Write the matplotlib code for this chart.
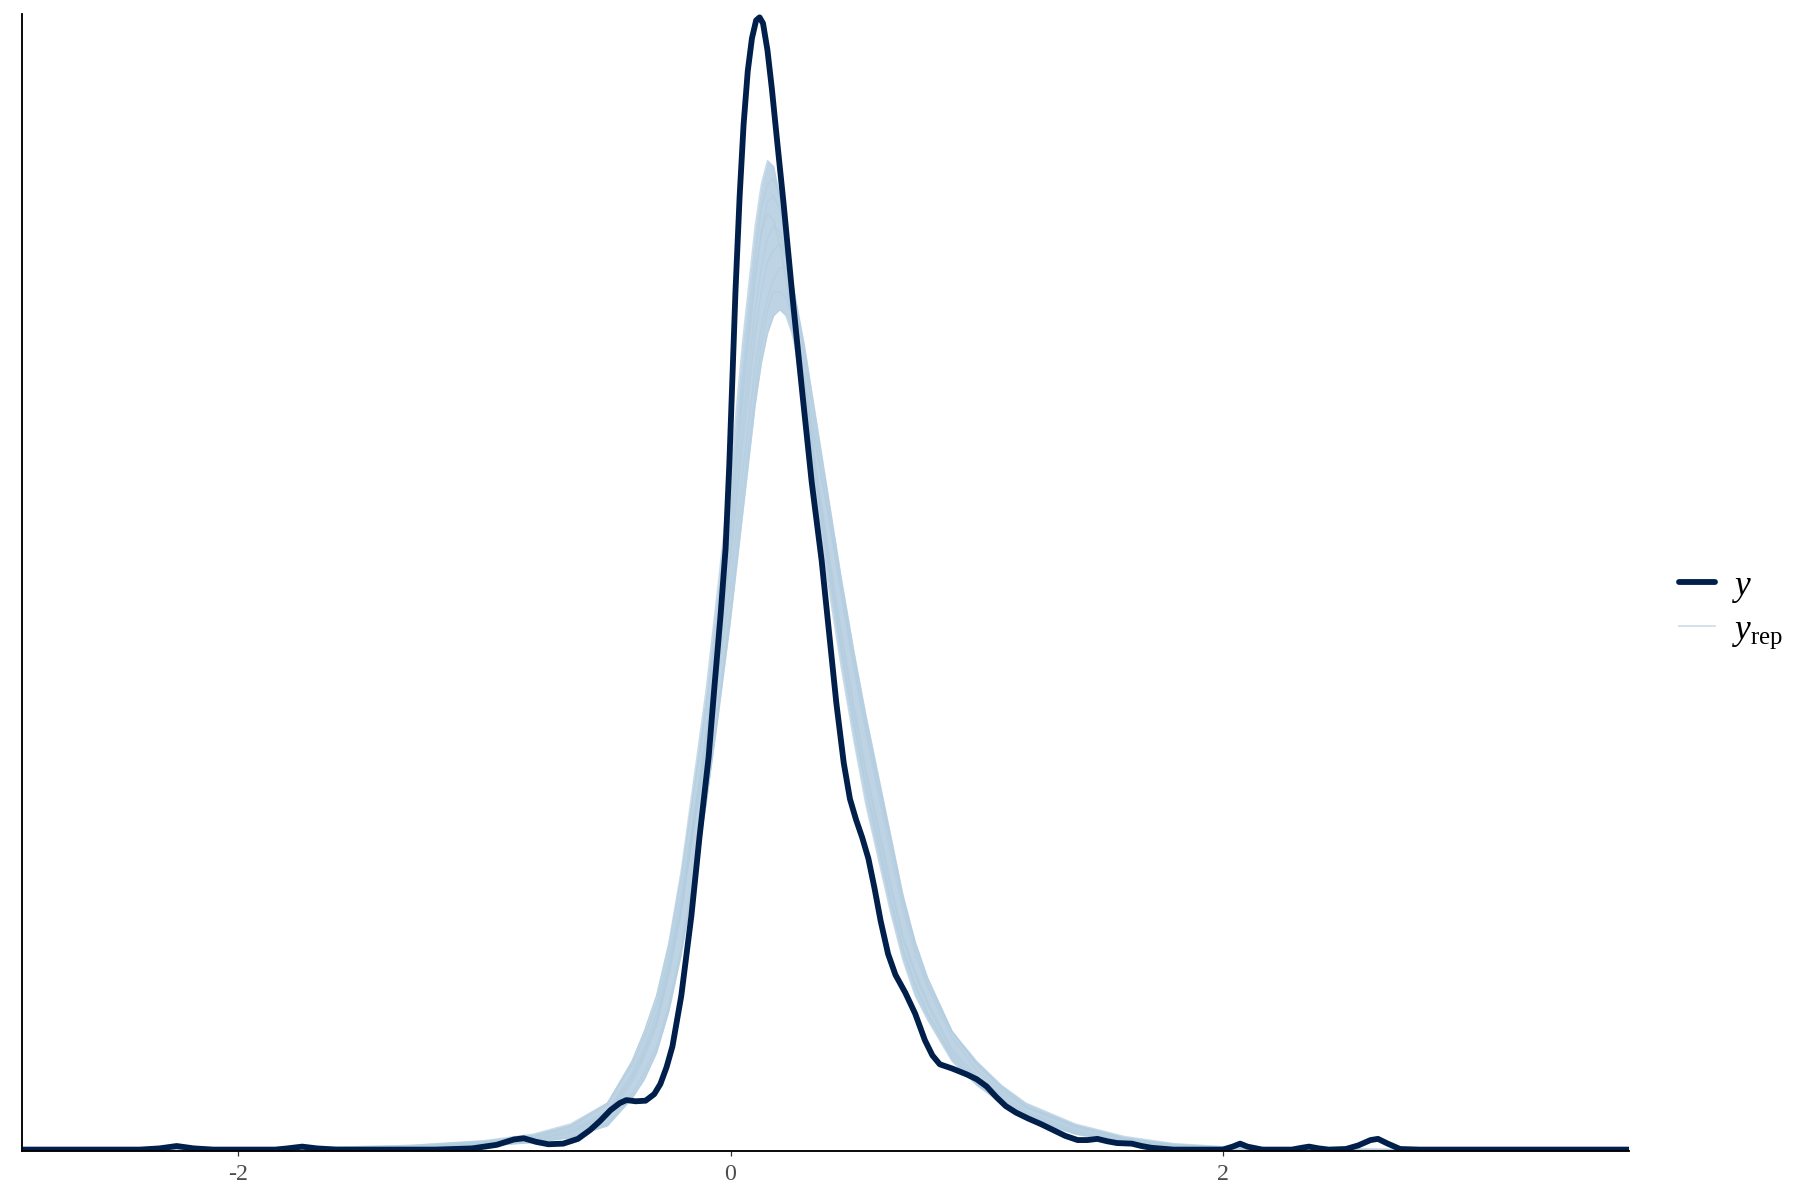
import numpy as np
import matplotlib
matplotlib.use("Agg")
import matplotlib.pyplot as plt
from matplotlib.lines import Line2D

plt.rcParams['font.family'] = ['Liberation Serif', 'DejaVu Serif']
plt.rcParams['mathtext.fontset'] = 'custom'
plt.rcParams['mathtext.rm'] = 'Liberation Serif'
plt.rcParams['mathtext.it'] = 'Liberation Serif:italic'

y_x = [-2.89, -2.4, -2.32, -2.25, -2.18, -2.1, -1.85, -1.8, -1.74, -1.68,
       -1.6, -1.2, -1.05, -0.95, -0.88, -0.84, -0.79, -0.74, -0.68, -0.62,
       -0.57, -0.53, -0.488, -0.45, -0.423, -0.385, -0.345, -0.31, -0.285, -0.26,
       -0.236, -0.2, -0.159, -0.126, -0.089, -0.065, -0.04, -0.02, -0.005, 0.008,
       0.02, 0.037, 0.053, 0.07, 0.087, 0.104, 0.118, 0.132, 0.15, 0.168,
       0.19, 0.215, 0.252, 0.293, 0.33, 0.37, 0.4, 0.43, 0.46, 0.485,
       0.51, 0.535, 0.56, 0.585, 0.61, 0.64, 0.67, 0.71, 0.75, 0.79,
       0.82, 0.85, 0.9, 0.96, 1.0, 1.04, 1.08, 1.118, 1.16, 1.21,
       1.26, 1.305, 1.36, 1.41, 1.45, 1.49, 1.53, 1.57, 1.63, 1.67,
       1.71, 1.8, 2.0, 2.04, 2.07, 2.1, 2.16, 2.28, 2.32, 2.35,
       2.39, 2.43, 2.5, 2.55, 2.6, 2.63, 2.67, 2.72, 2.8, 3.65]
y_dens = [0.002, 0.002, 0.004, 0.008, 0.004, 0.002, 0.002, 0.004, 0.007, 0.004,
          0.002, 0.002, 0.004, 0.01, 0.019, 0.021, 0.015, 0.011, 0.012, 0.02,
          0.035, 0.05, 0.068, 0.08, 0.085, 0.083, 0.084, 0.095, 0.112, 0.14,
          0.175, 0.26, 0.394, 0.526, 0.66, 0.78, 0.9, 1.01, 1.15, 1.3,
          1.44, 1.6, 1.72, 1.81, 1.865, 1.895, 1.9, 1.89, 1.845, 1.78,
          1.69, 1.59, 1.43, 1.265, 1.12, 0.99, 0.87, 0.75, 0.65, 0.59,
          0.555, 0.525, 0.49, 0.44, 0.385, 0.33, 0.295, 0.265, 0.23, 0.185,
          0.16, 0.145, 0.138, 0.128, 0.12, 0.108, 0.09, 0.075, 0.064, 0.054,
          0.045, 0.036, 0.025, 0.018, 0.018, 0.02, 0.016, 0.013, 0.012, 0.008,
          0.005, 0.002, 0.002, 0.007, 0.012, 0.007, 0.002, 0.002, 0.005, 0.007,
          0.004, 0.002, 0.003, 0.009, 0.018, 0.02, 0.012, 0.003, 0.002, 0.002]

# replicated densities (y_rep), all on one x grid
rep_x = [-2.9, -2.2, -1.7, -1.3, -1.0, -0.8, -0.65, -0.5, -0.4, -0.35, -0.3, -0.25,
         -0.2, -0.15, -0.1, -0.05, 0.0, 0.05, 0.1, 0.125, 0.15, 0.175,
         0.2, 0.225, 0.25, 0.3, 0.35, 0.4, 0.45, 0.5, 0.55, 0.6, 0.65,
         0.7, 0.75, 0.8, 0.9, 1.0, 1.1, 1.2, 1.4, 1.6, 1.8, 2.0,
         2.4, 3.0, 3.65]
rep_a = [0.001, 0.002, 0.003, 0.006, 0.012, 0.02, 0.032, 0.062, 0.125, 0.168, 0.22, 0.305,
         0.41, 0.55, 0.68, 0.84, 1.0, 1.22, 1.41, 1.48, 1.53, 1.55,
         1.54, 1.5, 1.44, 1.28, 1.14, 1.0, 0.87, 0.75, 0.64, 0.545, 0.45,
         0.36, 0.3, 0.25, 0.17, 0.125, 0.095, 0.066, 0.035, 0.017, 0.008, 0.005,
         0.003, 0.001, 0.0005]
rep_b = [0.001, 0.002, 0.004, 0.007, 0.014, 0.024, 0.04, 0.078, 0.15, 0.2, 0.26, 0.35,
         0.47, 0.62, 0.77, 0.95, 1.14, 1.36, 1.55, 1.62, 1.66, 1.65,
         1.6, 1.53, 1.45, 1.27, 1.11, 0.97, 0.84, 0.72, 0.61, 0.52, 0.42,
         0.34, 0.28, 0.23, 0.155, 0.115, 0.085, 0.06, 0.03, 0.014, 0.007, 0.004,
         0.002, 0.001, 0.0005]
rep_c = [0.001, 0.001, 0.002, 0.005, 0.009, 0.015, 0.024, 0.046, 0.095, 0.13, 0.175, 0.245,
         0.34, 0.46, 0.58, 0.73, 0.89, 1.07, 1.25, 1.32, 1.37, 1.4,
         1.41, 1.4, 1.37, 1.28, 1.17, 1.06, 0.94, 0.82, 0.71, 0.61, 0.52,
         0.42, 0.35, 0.29, 0.2, 0.145, 0.108, 0.075, 0.042, 0.021, 0.01, 0.006,
         0.003, 0.001, 0.0005]
rep_d = [0.001, 0.002, 0.003, 0.006, 0.011, 0.019, 0.031, 0.06, 0.12, 0.162, 0.215, 0.3,
         0.4, 0.54, 0.68, 0.85, 1.03, 1.26, 1.46, 1.54, 1.59, 1.6,
         1.58, 1.53, 1.46, 1.29, 1.13, 0.99, 0.86, 0.74, 0.63, 0.535, 0.44,
         0.355, 0.295, 0.245, 0.165, 0.12, 0.09, 0.063, 0.033, 0.016, 0.008, 0.005,
         0.002, 0.001, 0.0005]
rep_e = [0.001, 0.002, 0.004, 0.007, 0.014, 0.023, 0.036, 0.066, 0.13, 0.175, 0.23, 0.315,
         0.41, 0.54, 0.66, 0.8, 0.95, 1.14, 1.31, 1.38, 1.43, 1.46,
         1.48, 1.48, 1.46, 1.35, 1.22, 1.09, 0.96, 0.84, 0.73, 0.63, 0.53,
         0.43, 0.35, 0.29, 0.2, 0.145, 0.105, 0.073, 0.042, 0.021, 0.011, 0.006,
         0.003, 0.001, 0.0005]
rep_f = [0.001, 0.002, 0.003, 0.005, 0.01, 0.017, 0.028, 0.055, 0.115, 0.158, 0.21, 0.295,
         0.4, 0.55, 0.7, 0.87, 1.05, 1.28, 1.47, 1.54, 1.57, 1.56,
         1.52, 1.46, 1.39, 1.22, 1.07, 0.94, 0.81, 0.69, 0.58, 0.49, 0.4,
         0.32, 0.26, 0.22, 0.15, 0.11, 0.08, 0.055, 0.028, 0.013, 0.006, 0.003,
         0.002, 0.001, 0.0005]
rep_g = [0.002, 0.003, 0.005, 0.009, 0.017, 0.028, 0.045, 0.08, 0.145, 0.19, 0.245, 0.325,
         0.43, 0.56, 0.68, 0.83, 0.99, 1.19, 1.37, 1.44, 1.49, 1.51,
         1.52, 1.5, 1.46, 1.33, 1.2, 1.08, 0.95, 0.83, 0.72, 0.62, 0.52,
         0.42, 0.34, 0.28, 0.2, 0.15, 0.11, 0.08, 0.045, 0.024, 0.012, 0.007,
         0.003, 0.001, 0.0005]
rep_h = [0.002, 0.003, 0.005, 0.009, 0.016, 0.026, 0.042, 0.08, 0.15, 0.2, 0.26, 0.345,
         0.46, 0.6, 0.74, 0.9, 1.08, 1.3, 1.5, 1.58, 1.62, 1.63,
         1.6, 1.54, 1.46, 1.28, 1.12, 0.98, 0.84, 0.72, 0.61, 0.51, 0.42,
         0.335, 0.275, 0.23, 0.16, 0.115, 0.085, 0.058, 0.03, 0.014, 0.007, 0.004,
         0.002, 0.001, 0.0005]
rep_i = [0.001, 0.001, 0.002, 0.004, 0.008, 0.014, 0.022, 0.042, 0.088, 0.12, 0.165, 0.235,
         0.33, 0.45, 0.58, 0.74, 0.91, 1.1, 1.27, 1.35, 1.41, 1.44,
         1.44, 1.43, 1.4, 1.3, 1.18, 1.06, 0.93, 0.81, 0.7, 0.6, 0.5,
         0.405, 0.33, 0.275, 0.19, 0.135, 0.1, 0.072, 0.039, 0.019, 0.009, 0.005,
         0.002, 0.001, 0.0005]

x_ticks = [-2, 0, 2]
x_tick_labels = ['-2', '0', '2']

dark = '#011f4b'
light = '#b3cde0'

reps = np.array([rep_a, rep_b, rep_c, rep_d, rep_e, rep_f, rep_g, rep_h, rep_i])

fig = plt.figure(figsize=(12, 8), dpi=150)
ax = fig.add_axes([0.012, 0.041, 0.893, 0.947])

# the overlapping y_rep lines read as one band, plus the single lines on top
ax.fill_between(rep_x, reps.min(axis=0), reps.max(axis=0), color=light, alpha=0.85, lw=0)
for r in reps:
    ax.plot(rep_x, r, color=light, lw=0.7, alpha=0.7)
ax.plot(y_x, y_dens, color=dark, lw=2.8, solid_capstyle='round', solid_joinstyle='round')

ax.set_xlim(-2.88, 3.65)
ax.set_ylim(0, 1.905)
ax.set_xticks(x_ticks)
ax.set_xticklabels(x_tick_labels)
ax.set_yticks([])
ax.tick_params(axis='x', length=2.5, width=0.6, color='#333333', labelcolor='#4d4d4d',
               labelsize=11.5, pad=4)
for s in ['top', 'right']:
    ax.spines[s].set_visible(False)
for s in ['left', 'bottom']:
    ax.spines[s].set_linewidth(0.9)
    ax.spines[s].set_color('black')

handles = [Line2D([], [], color=dark, lw=2.8, solid_capstyle='round'),
           Line2D([], [], color=light, lw=0.8, alpha=0.7)]
fig.legend(handles, ['$y$', r'$y_{\mathrm{rep}}$'], loc='center left',
           bbox_to_anchor=(0.923, 0.4915), frameon=False, fontsize=17,
           handlelength=1.0, handletextpad=0.5, labelspacing=0.25, borderpad=0)

fig.savefig('out.png', dpi=150)
